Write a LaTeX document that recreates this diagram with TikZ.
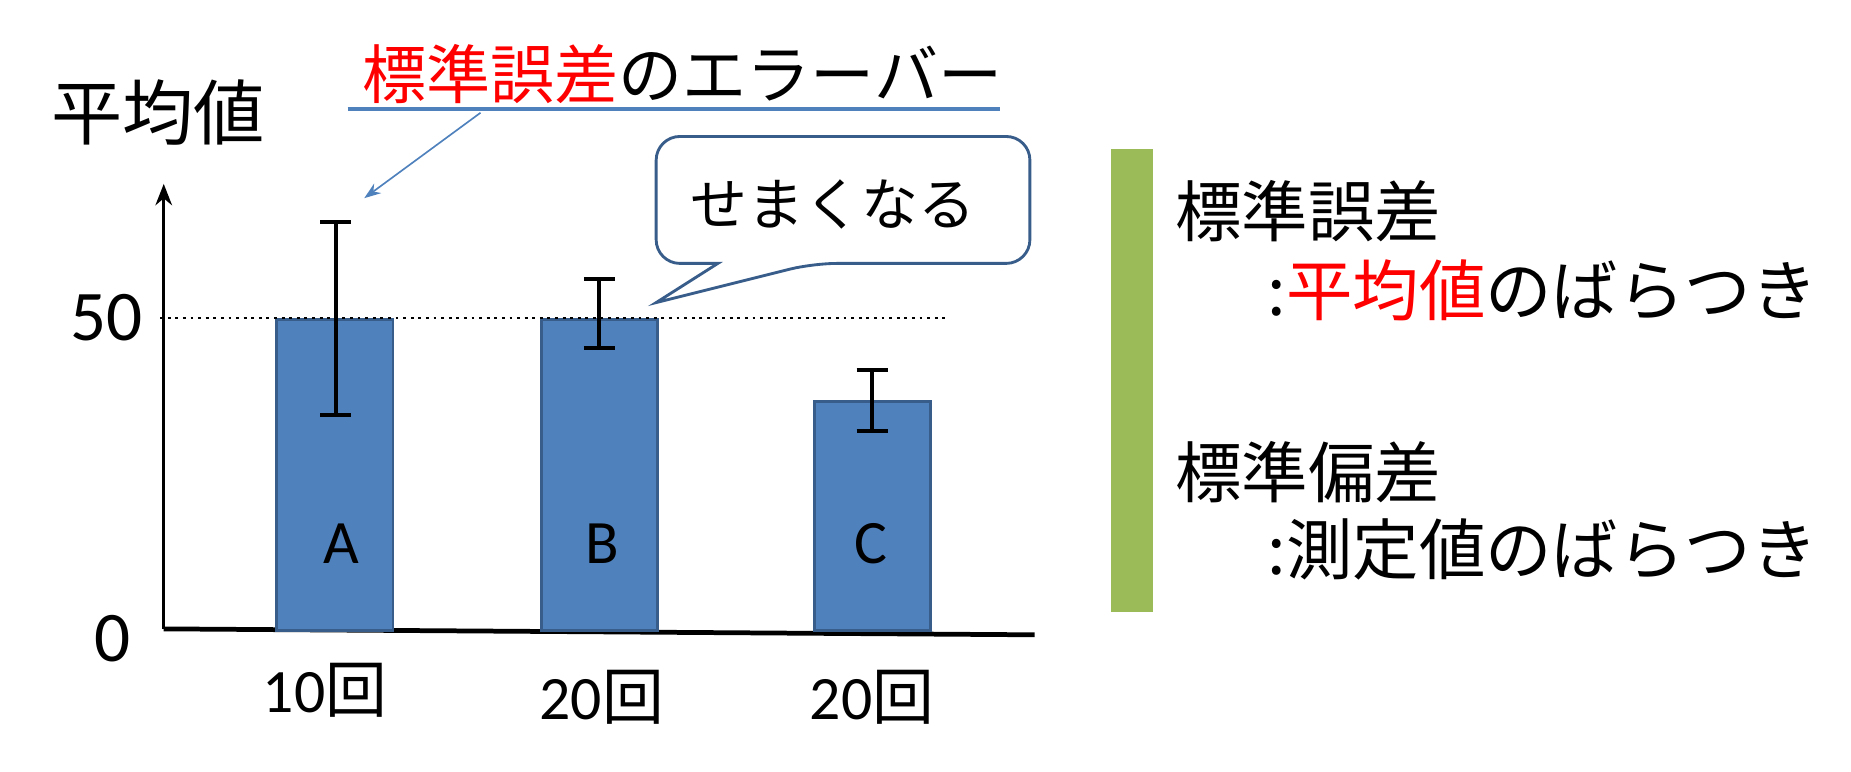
\documentclass[tikz,border=0pt]{standalone}
\usepackage{fontspec}
\setmainfont{Carlito}
\newfontfamily\cjk{Noto Sans CJK JP}
\usetikzlibrary{arrows.meta}
\definecolor{barblue}{HTML}{4F81BD}
\definecolor{barline}{HTML}{385D8A}
\definecolor{lgreen}{HTML}{9BBB59}
\begin{document}
\begin{tikzpicture}[x=0.5pt,y=-0.5pt,
  bar/.style={fill=barblue,draw=barline,line width=1.2pt},
  err/.style={line width=1.8pt},
  lbl/.style={font=\fontsize{26}{30}\selectfont},
  jp/.style={font=\cjk\fontsize{27}{32}\selectfont,inner sep=0pt}]
\useasboundingbox (0,0) rectangle (1560,650);
% axes
\coordinate (o) at (138,530);
\coordinate (ytop) at (138,155);
\coordinate (xend) at (872,535);
\draw[line width=1.2pt,-{Stealth[length=9pt,width=7pt]}] (o) -- (ytop);
\draw[line width=2pt] (o) -- (xend);
% bars
\node[bar,minimum width=49pt,minimum height=131pt,inner sep=0pt,anchor=north west] (A) at (232,268) {};
\node[bar,minimum width=49pt,minimum height=131pt,inner sep=0pt,anchor=north west] (B) at (455,268) {};
\node[bar,minimum width=49pt,minimum height=96.5pt,inner sep=0pt,anchor=north west] (C) at (685,337) {};
\node[lbl] at (288,458) {A};
\node[lbl] at (508,458) {B};
\node[lbl] at (734,458) {C};
% dotted line
\coordinate (d1) at (135,268); \coordinate (d2) at (798,268);
\draw[line width=1.2pt,dotted] (d1) -- (d2);
% error bars
\foreach \x/\a/\b in {283/187/350,505/235/293,735/312/363}{
  \draw[err] (\x,\a) -- (\x,\b);
  \draw[err] (\x-13,\a) -- (\x+13,\a);
  \draw[err] (\x-13,\b) -- (\x+13,\b);
}
% axis labels
\node[lbl,font=\fontsize{30}{34}\selectfont] (l50) at (90,268) {50};
\node[lbl,font=\fontsize{30}{34}\selectfont] (l0) at (95,538) {0};
\node[lbl] (x1) at (274,582) {10{\cjk 回}};
\node[lbl] (x2) at (507,588) {20{\cjk 回}};
\node[lbl] (x3) at (735,588) {20{\cjk 回}};
\node[jp,font=\cjk\fontsize{30}{34}\selectfont] (ylab) at (133,95) {平均値};
% title
\node[jp] (title) at (575,62) {\textcolor{red}{標準誤差}のエラーバー};
\coordinate (u1) at (293,92); \coordinate (u2) at (843,92);
\draw[barblue,line width=1.5pt] (u1) -- (u2);
\coordinate (as) at (405,95); \coordinate (ae) at (307,167);
\draw[barblue,line width=0.7pt,-{Stealth[length=7pt,width=5pt]}] (as) -- (ae);
% callout
\draw[barline,fill=white,line width=1.2pt,rounded corners=10pt]
  (553,115) -- (868,115) -- (868,222) -- (685,222) [sharp corners]-- (553,255) -- (605,222) [rounded corners=10pt] -- (553,222) -- cycle;
\node[jp,font=\cjk\fontsize{24}{28}\selectfont] (callout) at (702,172) {せまくなる};
% green bar
\node[fill=lgreen,minimum width=17.5pt,minimum height=195pt,inner sep=0pt,anchor=north west] (g) at (936,125) {};
% right text
\node[jp,anchor=west,font=\cjk\fontsize{28}{32}\selectfont] (t1) at (990,178) {標準誤差};
\node[jp,anchor=west,font=\cjk\fontsize{28}{32}\selectfont] (t2) at (1068,245) {:\textcolor{red}{平均値}のばらつき};
\node[jp,anchor=west,font=\cjk\fontsize{28}{32}\selectfont] (t3) at (990,398) {標準偏差};
\node[jp,anchor=west,font=\cjk\fontsize{28}{32}\selectfont] (t4) at (1068,463) {:測定値のばらつき};
\end{tikzpicture}
\end{document}
